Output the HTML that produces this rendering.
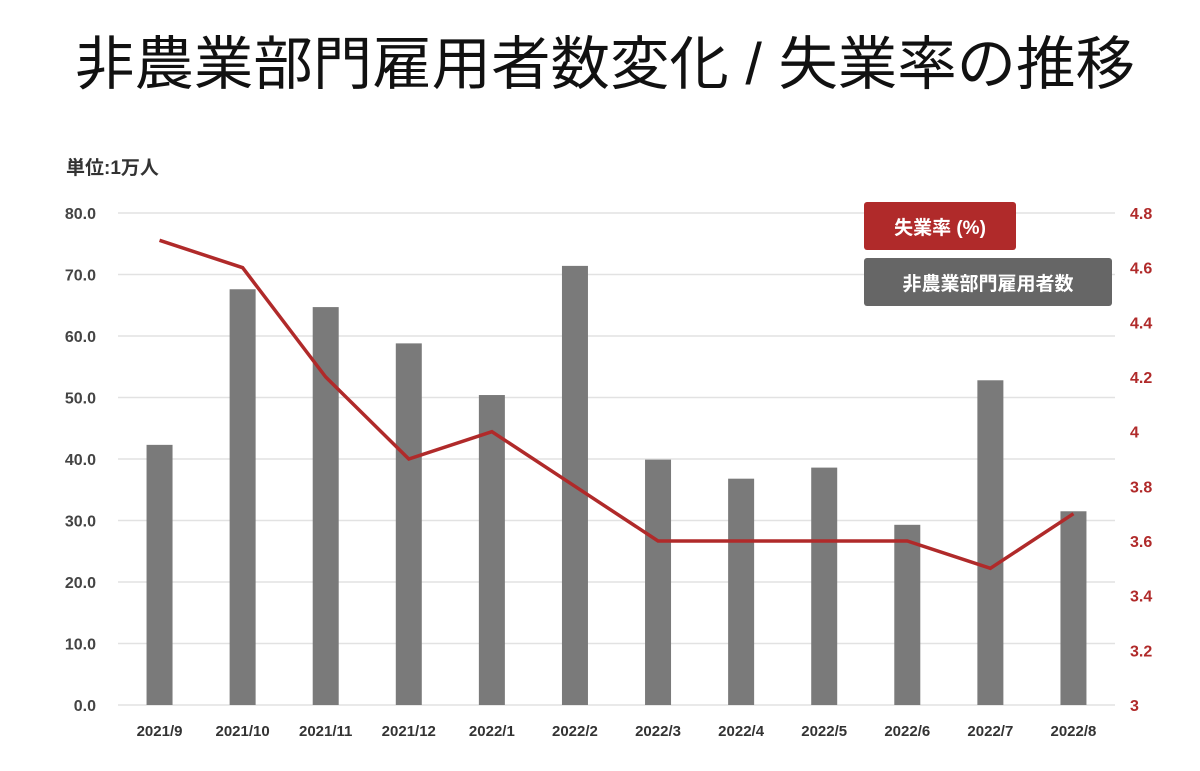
<!DOCTYPE html>
<html><head><meta charset="utf-8"><style>
body{margin:0;background:#fff;width:1200px;height:766px;overflow:hidden;font-family:"Liberation Sans","Noto Sans CJK JP",sans-serif;}
</style></head><body>
<svg width="1200" height="766" xmlns="http://www.w3.org/2000/svg">
<text x="605" y="84" text-anchor="middle" font-size="58" textLength="1060" lengthAdjust="spacingAndGlyphs" fill="#111" font-family="Liberation Sans, Noto Sans CJK JP, sans-serif">非農業部門雇用者数変化 / 失業率の推移</text>
<text x="66" y="174" font-size="19" font-weight="bold" fill="#333" font-family="Liberation Sans, Noto Sans CJK JP, sans-serif">単位:1万人</text>
<g id="grid"></g><g id="bars"></g><g id="line"></g><g id="axes"></g>
<rect x="864" y="202" width="152" height="48" rx="3" fill="#b02a2a"/>
<text x="940" y="234" text-anchor="middle" font-size="19" font-weight="bold" fill="#fff" font-family="Liberation Sans, Noto Sans CJK JP, sans-serif">失業率 (%)</text>
<rect x="864" y="258" width="248" height="48" rx="3" fill="#666"/>
<text x="988" y="290" text-anchor="middle" font-size="19" font-weight="bold" fill="#fff" font-family="Liberation Sans, Noto Sans CJK JP, sans-serif">非農業部門雇用者数</text>
</svg>
<script>
const categories=["2021/9","2021/10","2021/11","2021/12","2022/1","2022/2","2022/3","2022/4","2022/5","2022/6","2022/7","2022/8"];
const payrolls=[42.3,67.6,64.7,58.8,50.4,71.4,39.9,36.8,38.6,29.3,52.8,31.5];
const unemployment=[4.7,4.6,4.2,3.9,4.0,3.8,3.6,3.6,3.6,3.6,3.5,3.7];
const leftTicks=[0,10,20,30,40,50,60,70,80];
const rightTicks=[3,3.2,3.4,3.6,3.8,4,4.2,4.4,4.6,4.8];
const NS="http://www.w3.org/2000/svg";
const x0=118,x1=1115,yb=705,yt=213;
const band=(x1-x0)/categories.length;
const xc=i=>x0+band*(i+0.5);
const yL=v=>yb-(v/80)*(yb-yt);
const yR=v=>yb-((v-3)/1.8)*(yb-yt);
function mk(tag,attrs,parent){const e=document.createElementNS(NS,tag);for(const k in attrs)e.setAttribute(k,attrs[k]);document.getElementById(parent).appendChild(e);return e;}
leftTicks.forEach(t=>{
 const g=mk("line",{x1:x0,x2:x1,y1:yL(t),y2:yL(t),stroke:"#e2e2e2","stroke-width":1.5},"grid");
 
 
 const l=mk("text",{x:96,y:yL(t)+6,"text-anchor":"end","font-size":16,"font-weight":"bold",fill:"#444"},"axes");
 l.textContent=t.toFixed(1);
 
 
});
rightTicks.forEach(t=>{
 const l=mk("text",{x:1130,y:yR(t)+6,"font-size":16,"font-weight":"bold",fill:"#b02a2a"},"axes");
 l.textContent=String(Math.round(t*10)/10);
 
 
});
categories.forEach((c,i)=>{
 const b=mk("rect",{x:xc(i)-13,y:yL(payrolls[i]),width:26,height:yb-yL(payrolls[i]),fill:"#7a7a7a"},"bars");
 
 
 const l=mk("text",{x:xc(i),y:736,"text-anchor":"middle","font-size":15,"font-weight":"bold",fill:"#333"},"axes");
 l.textContent=c;
 
 
});
const pl=mk("polyline",{points:unemployment.map((v,i)=>xc(i)+","+yR(v)).join(" "),fill:"none",stroke:"#b02a2a","stroke-width":3.5},"line");


</script>
</body></html>
